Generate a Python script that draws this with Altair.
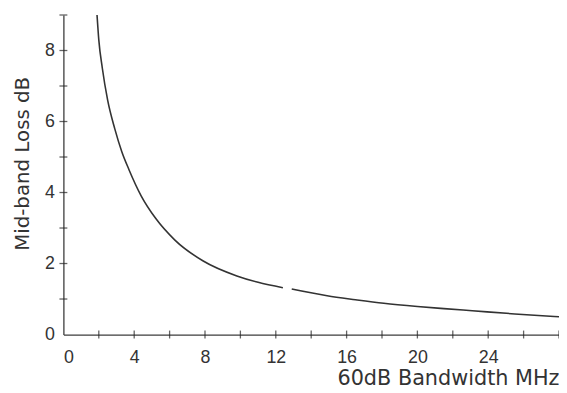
import altair as alt
import pandas as pd

# Curve readings (two segments, small gap near 12.5 MHz)
bw_seg1 = [1.9, 2.0, 2.2, 2.5, 2.9, 3.3, 3.7, 4.4, 5.2, 6.3, 7.9, 9.8, 11.0, 12.4]
loss_seg1 = [9.0, 8.3, 7.5, 6.6, 5.8, 5.15, 4.65, 3.9, 3.28, 2.66, 2.07, 1.65, 1.47, 1.32]
bw_seg2 = [12.9, 14.9, 16.5, 18.1, 20.0, 21.5, 23.1, 25.5, 28.0]
loss_seg2 = [1.28, 1.09, 0.98, 0.88, 0.79, 0.73, 0.67, 0.58, 0.5]

x_ticks = [2, 4, 6, 8, 10, 12, 14, 16, 18, 20, 22, 24, 26, 28]
x_labels = [0, 4, 8, 12, 16, 20, 24]
y_ticks = [1, 2, 3, 4, 5, 6, 7, 8, 9]
y_labels = [0, 2, 4, 6, 8]

curve = pd.DataFrame({
    "bw": bw_seg1 + bw_seg2,
    "loss": loss_seg1 + loss_seg2,
    "seg": ["a"] * len(bw_seg1) + ["b"] * len(bw_seg2),
})
xt = pd.DataFrame({"t": x_ticks})
yt = pd.DataFrame({"t": y_ticks})

AX = "#3c3c3c"
xscale = alt.Scale(domain=[0, 28], nice=False, zero=True)
yscale = alt.Scale(domain=[0, 9], nice=False, zero=True)

xaxis = alt.Axis(values=x_labels, format="d", title="60dB Bandwidth MHz",
                 grid=False, ticks=False, labelPadding=14, labelFontSize=18,
                 labelFont="Liberation Sans", labelColor="#333",
                 domainColor=AX, domainWidth=1.3,
                 titleFont="DejaVu Sans", titleFontSize=21, titleFontWeight="normal",
                 titleColor="#333", titleAnchor="end", titleAlign="right",
                 titlePadding=2)
yaxis = alt.Axis(values=y_labels, format="d", title="Mid-band Loss dB",
                 grid=False, ticks=False, labelPadding=9, labelFontSize=18,
                 labelFont="Liberation Sans", labelColor="#333",
                 domainColor=AX, domainWidth=1.3,
                 titleFont="DejaVu Sans", titleFontSize=20, titleFontWeight="normal",
                 titleColor="#333", titlePadding=12, titleY=150)

line = alt.Chart(curve).mark_line(interpolate="monotone", color="#333", strokeWidth=1.6).encode(
    x=alt.X("bw:Q", scale=xscale, axis=xaxis),
    y=alt.Y("loss:Q", scale=yscale, axis=yaxis),
    detail="seg:N",
)

xtick = alt.Chart(xt).mark_tick(orient="vertical", size=8, thickness=1.3, color="#222").encode(
    x=alt.X("t:Q", scale=xscale),
    y=alt.datum(0, scale=yscale),
)
ytick = alt.Chart(yt).mark_tick(orient="horizontal", size=8, thickness=1.3, color="#222").encode(
    x=alt.datum(0, scale=xscale),
    y=alt.Y("t:Q", scale=yscale),
)

chart = alt.layer(line, xtick, ytick).properties(
    width=501, height=323,
    background="white",
    autosize=alt.AutoSizeParams(type="none"),
    padding={"left": 56, "top": 5, "right": 0, "bottom": 54},
).configure_view(strokeOpacity=0, strokeWidth=0).configure_axis(
    grid=False, gridOpacity=0
)

chart.save("out.html", embed_options={"renderer": "svg", "actions": False})
